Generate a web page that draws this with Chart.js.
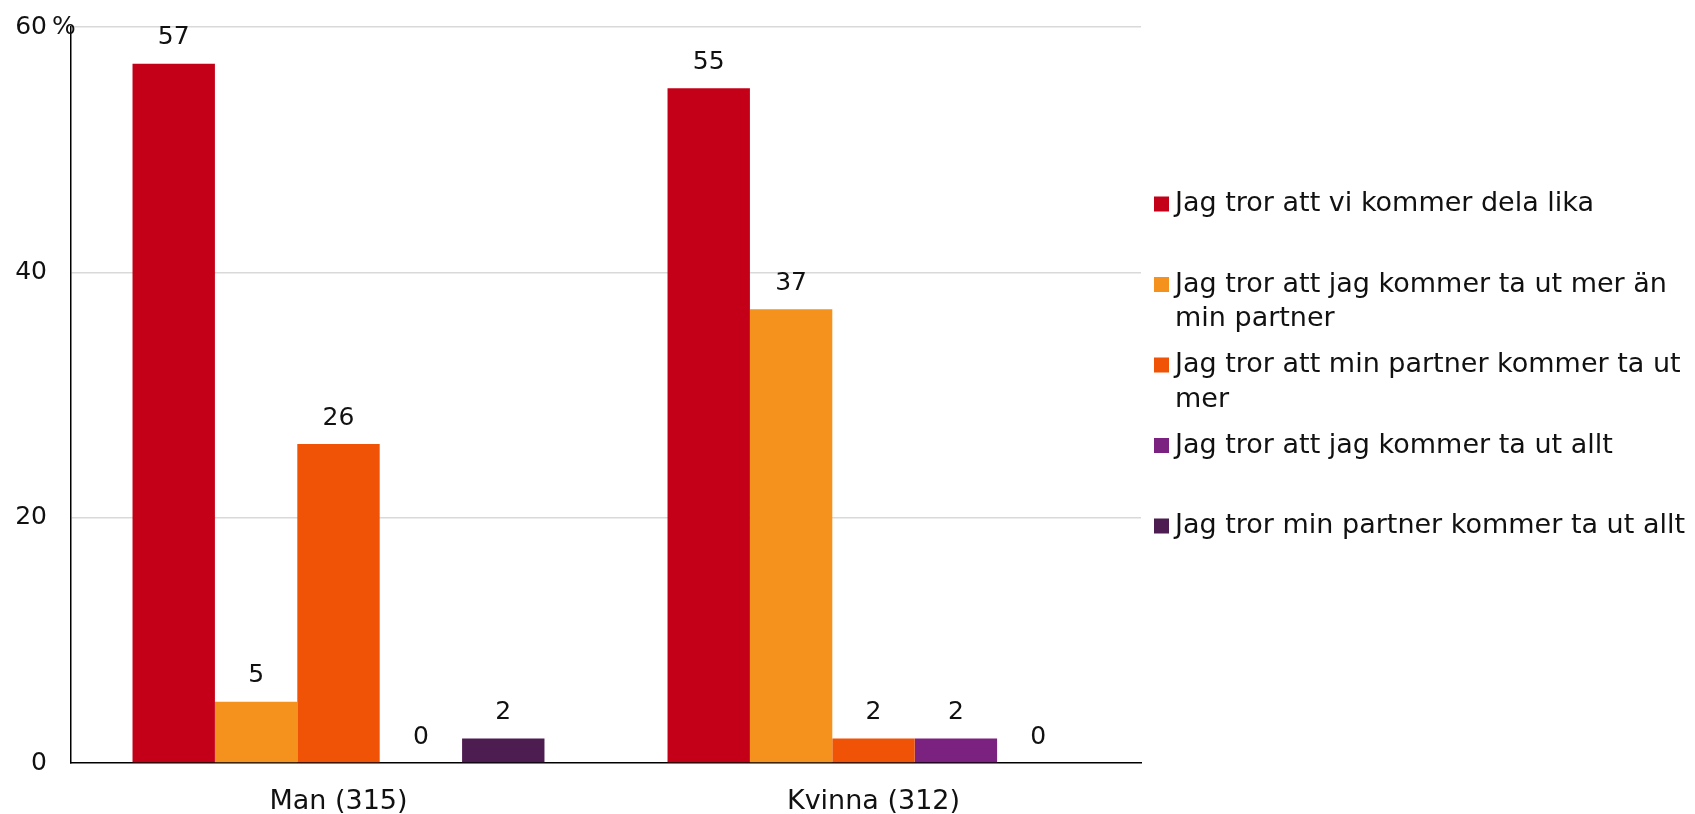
<!DOCTYPE html>
<html>
<head>
<meta charset="utf-8">
<script src="https://cdn.jsdelivr.net/npm/chart.js@4.4.1/dist/chart.umd.min.js"></script>
<style>
  html, body { margin: 0; padding: 0; background: #fff; }
  #wrap { width: 1695px; height: 814px; }
</style>
</head>
<body>
<div id="wrap"><canvas id="c" width="1695" height="814"></canvas></div>
<script>
const categories = ["Man (315)", "Kvinna (312)"];
const seriesNames = [
  "Jag tror att vi kommer dela lika",
  "Jag tror att jag kommer ta ut mer än min partner",
  "Jag tror att min partner kommer ta ut mer",
  "Jag tror att jag kommer ta ut allt",
  "Jag tror min partner kommer ta ut allt"
];
const delaLika = [57, 55];
const jagMer = [5, 37];
const partnerMer = [26, 2];
const jagAllt = [0, 2];
const partnerAllt = [2, 0];
const yTicks = [0, 20, 40, 60];
const unitLabel = "%";

const colors = ["#c40018", "#f5921e", "#f05305", "#7b2180", "#4d1c50"];
const seriesValues = [delaLika, jagMer, partnerMer, jagAllt, partnerAllt];
const FONT = "'DejaVu Sans', Verdana, sans-serif";

const datasets = seriesNames.map((name, i) => ({
  label: name,
  data: seriesValues[i],
  backgroundColor: colors[i],
  borderWidth: 0,
  categoryPercentage: 0.77,
  barPercentage: 1.0
}));

const valueLabels = {
  id: 'valueLabels',
  afterDatasetsDraw(chart) {
    const ctx = chart.ctx;
    ctx.save();
    ctx.font = "25px " + FONT;
    ctx.fillStyle = "#111";
    ctx.textAlign = "center";
    ctx.textBaseline = "middle";
    chart.data.datasets.forEach((ds, di) => {
      const meta = chart.getDatasetMeta(di);
      meta.data.forEach((bar, i) => {
        ctx.fillText(String(ds.data[i]), bar.x, bar.y - 26);
      });
    });
    ctx.restore();
  }
};

const unitPlugin = {
  id: 'unitPlugin',
  afterDraw(chart) {
    const ctx = chart.ctx;
    const ys = chart.scales.y;
    ctx.save();
    ctx.font = "25px " + FONT;
    ctx.fillStyle = "#111";
    ctx.textAlign = "left";
    ctx.textBaseline = "middle";
    ctx.fillText(unitLabel, ys.right - 19, ys.getPixelForValue(yTicks[yTicks.length - 1]));
    ctx.restore();
  }
};

function wrapText(ctx, text, maxW) {
  const words = text.split(" ");
  const lines = [];
  let cur = "";
  words.forEach(w => {
    const t = cur ? cur + " " + w : w;
    if (ctx.measureText(t).width > maxW && cur) { lines.push(cur); cur = w; }
    else cur = t;
  });
  if (cur) lines.push(cur);
  return lines;
}

const sideLegend = {
  id: 'sideLegend',
  afterDraw(chart) {
    const ctx = chart.ctx;
    ctx.save();
    ctx.font = "27px " + FONT;
    ctx.textBaseline = "middle";
    ctx.textAlign = "left";
    const boxX = 1154, box = 15, textX = 1175;
    const maxW = chart.width - textX - 2;
    let y0 = 204;
    const slot = 80.5, lh = 34.6;
    chart.data.datasets.forEach((ds, i) => {
      const yc = y0 + i * slot;
      ctx.fillStyle = ds.backgroundColor;
      ctx.fillRect(boxX, yc - box / 2, box, box);
      ctx.fillStyle = "#111";
      const lines = wrapText(ctx, ds.label, maxW);
      lines.forEach((ln, k) => ctx.fillText(ln, textX, yc + k * lh));
    });
    ctx.restore();
  }
};

new Chart(document.getElementById('c'), {
  type: 'bar',
  data: { labels: categories, datasets },
  plugins: [valueLabels, unitPlugin, sideLegend],
  options: {
    responsive: false,
    animation: false,
    devicePixelRatio: 1,
    layout: { padding: { top: 27, right: 554, left: 0, bottom: 0 } },
    plugins: { legend: { display: false }, tooltip: { enabled: false } },
    scales: {
      x: {
        grid: { display: false },
        border: { color: "#000", width: 1.5 },
        ticks: { font: { family: FONT, size: 27 }, color: "#111", padding: 15, maxRotation: 0 },
        afterFit(s) { s.height = 51; s.paddingLeft = 0; s.paddingRight = 0; }
      },
      y: {
        min: 0, max: 60,
        afterBuildTicks(s) { s.ticks = yTicks.map(v => ({ value: v })); },
        grid: {
          drawTicks: false,
          color: ctx => (ctx.tick && ctx.tick.value === 0) ? "rgba(0,0,0,0)" : "#d9d9d9",
          lineWidth: 1.5
        },
        border: { color: "#000", width: 1.5 },
        ticks: { font: { family: FONT, size: 25 }, color: "#111", padding: 24 },
        afterFit(s) { s.width = 71; s.paddingTop = 0; s.paddingBottom = 0; }
      }
    }
  }
});
</script>
</body>
</html>
